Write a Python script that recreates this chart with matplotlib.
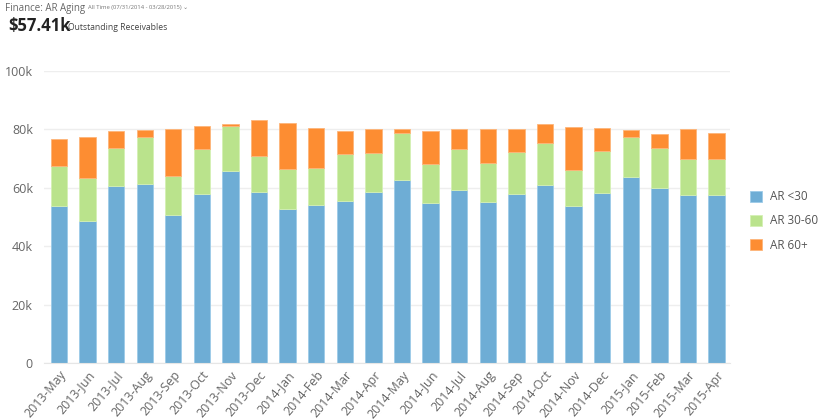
import numpy as np
import matplotlib.pyplot as plt

months = ['2013-May', '2013-Jun', '2013-Jul', '2013-Aug', '2013-Sep', '2013-Oct',
          '2013-Nov', '2013-Dec', '2014-Jan', '2014-Feb', '2014-Mar', '2014-Apr',
          '2014-May', '2014-Jun', '2014-Jul', '2014-Aug', '2014-Sep', '2014-Oct',
          '2014-Nov', '2014-Dec', '2015-Jan', '2015-Feb', '2015-Mar', '2015-Apr']

# stack tops (in thousands)
top_lt30 = [53.9, 48.6, 60.5, 61.4, 50.6, 57.8, 65.7, 58.5, 52.6, 54.2, 55.45, 58.5,
            62.7, 54.9, 59.4, 55.2, 57.8, 60.8, 53.6, 58.2, 63.75, 60.1, 57.5, 57.5]
top_3060 = [67.6, 63.4, 73.75, 77.4, 64.0, 73.2, 81.0, 70.8, 66.6, 66.9, 71.5, 71.8,
            78.75, 68.3, 73.2, 68.6, 72.2, 75.5, 66.25, 72.6, 77.4, 73.5, 69.7, 69.9]
top_60 = [76.7, 77.4, 79.3, 79.7, 80.0, 81.25, 82.0, 83.3, 82.3, 80.6, 79.3, 80.0,
          80.3, 79.3, 80.3, 80.0, 80.0, 81.9, 80.9, 80.6, 79.7, 78.4, 80.0, 78.75]

ar_lt30 = np.array(top_lt30) * 1000
ar_3060 = (np.array(top_3060) - np.array(top_lt30)) * 1000
ar_60 = (np.array(top_60) - np.array(top_3060)) * 1000

plt.rcParams['font.family'] = ['Open Sans', 'DejaVu Sans']

fig = plt.figure(figsize=(8.2, 4.2), dpi=100)
ax = fig.add_axes([44/820, 57/420, 686/820, 292/420])

x = np.arange(len(months))
w = 0.57
ax.bar(x, ar_lt30, w, color='#6eadd5', edgecolor='#9ccbe8', linewidth=0.6,
       label='AR <30', zorder=2)
ax.bar(x, ar_3060, w, bottom=ar_lt30, color='#bae38c', edgecolor='#d4f0b4',
       linewidth=0.6, label='AR 30-60', zorder=2)
ax.bar(x, ar_60, w, bottom=ar_lt30 + ar_3060, color='#fd8d32', edgecolor='#fdb57a',
       linewidth=0.6, label='AR 60+', zorder=2)

ax.set_xlim(-0.52, 23.47)
ax.set_ylim(0, 100000)
ax.set_yticks(np.arange(0, 100001, 20000))
ax.set_yticklabels(['0', '20k', '40k', '60k', '80k', '100k'])
ax.set_xticks(x)
ax.set_xticklabels(months, rotation=50, ha='right', va='top', rotation_mode='anchor')
ax.grid(axis='y', color='#eeeeee', linewidth=1, zorder=0)
for s in ['top', 'right', 'left']:
    ax.spines[s].set_visible(False)
ax.spines['bottom'].set_color('#e6e6e6')
ax.tick_params(axis='both', length=0, labelsize=9, colors='#666666')
ax.tick_params(axis='y', pad=8)
ax.tick_params(axis='x', pad=4)

leg = ax.legend(loc='center left', bbox_to_anchor=(750/820, (420 - 221)/420),
                bbox_transform=fig.transFigure, frameon=False, borderpad=0,
                borderaxespad=0, fontsize=8.5, handlelength=1.0, handleheight=1.0,
                labelspacing=0.95, handletextpad=0.7)
for t in leg.get_texts():
    t.set_color('#555555')

fig.text(5/820, 1 - 8/420, 'Finance: AR Aging', fontsize=7, color='#666666', va='center')
fig.text(88/820, 1 - 8/420, 'All Time (07/31/2014 - 03/28/2015) \u2304', fontsize=4.2,
         color='#777777', va='center')
fig.text(8/820, 1 - 26/420, '$57.41k', fontsize=12, fontweight='bold', color='#222222',
         va='center')
fig.text(68/820, 1 - 27/420, 'Outstanding Receivables', fontsize=6.2, color='#444444',
         va='center')

fig.savefig('out.png', dpi=100)
